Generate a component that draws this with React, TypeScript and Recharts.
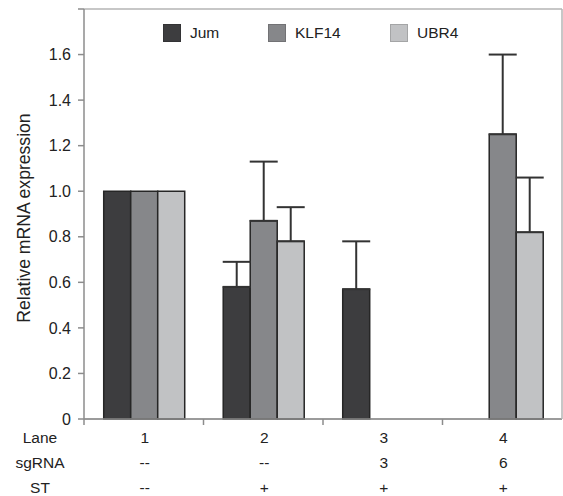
import React from 'react';
import { BarChart, Bar, XAxis, YAxis, CartesianGrid, Legend, ErrorBar } from 'recharts';

// lane table under the x axis
const LANES = ['1', '2', '3', '4'];
const SGRNA = ['--', '--', '3', '6'];
const ST = ['--', '+', '+', '+'];

// bar heights (relative mRNA expression)
const JUM = [1.0, 0.58, 0.57, null];
const KLF14 = [1.0, 0.87, null, 1.25];
const UBR4 = [1.0, 0.78, null, 0.82];

// upper error (only drawn above the bar)
const JUM_ERR = [null, 0.11, 0.21, null];
const KLF14_ERR = [null, 0.26, null, 0.35];
const UBR4_ERR = [null, 0.15, null, 0.24];

const Y_TICKS = [0, 0.2, 0.4, 0.6, 0.8, 1.0, 1.2, 1.4, 1.6, 1.8];

const SERIES = [
    { key: 'Jum', err: 'jumErr', color: '#3d3d3f' },
    { key: 'KLF14', err: 'klfErr', color: '#86878a' },
    { key: 'UBR4', err: 'ubrErr', color: '#c1c2c4' },
];

const W = 563;
const H = 496;
const Y_AXIS_W = 84;
const FONT = '"Liberation Sans", Arial, Helvetica, sans-serif';
const AXIS_GRAY = '#8c8c8c';
const GRID_GRAY = '#b4b4b4';
const TEXT = '#222';

const HALF_BAND = (W - Y_AXIS_W - 1) / LANES.length / 2;

const upper = (v: number | null) => (v == null ? null : [0, v]);

const data = LANES.map((lane, i) => ({
    lane,
    Jum: JUM[i],
    KLF14: KLF14[i],
    UBR4: UBR4[i],
    jumErr: upper(JUM_ERR[i]),
    klfErr: upper(KLF14_ERR[i]),
    ubrErr: upper(UBR4_ERR[i]),
}));

const LaneTick = (props: any) => {
    const { x, y, index, payload } = props;
    const i = index ?? payload.index;
    const rows = [LANES[i], SGRNA[i], ST[i]];
    const names = ['Lane', 'sgRNA', 'ST'];
    const dys = [24, 49, 74];
    return (
        <g>
            <line x1={x - HALF_BAND} x2={x - HALF_BAND} y1={y} y2={y + 6} stroke={AXIS_GRAY} strokeWidth={1.5} />
            {rows.map((t, r) => (
                <text key={r} x={x + 1} y={y + dys[r]} textAnchor="middle" fontSize={15.5} fill={TEXT} fontFamily={FONT}>
                    {t}
                </text>
            ))}
            {i === 0 && names.map((t, r) => (
                <text key={'n' + r} x={40} y={y + dys[r]} textAnchor="middle" fontSize={15.5} fill={TEXT} fontFamily={FONT}>
                    {t}
                </text>
            ))}
        </g>
    );
};

const renderLegend = () => (
    <div style={{ display: 'flex', alignItems: 'center', fontFamily: FONT, fontSize: 15.5, color: TEXT }}>
        {SERIES.map((s, i) => (
            <div key={s.key} style={{ display: 'flex', alignItems: 'center', width: i === 0 ? 105 : i === 1 ? 122 : 80 }}>
                <span
                    style={{
                        display: 'inline-block',
                        width: 18,
                        height: 18,
                        boxSizing: 'border-box',
                        background: s.color,
                        border: '1px solid rgba(0,0,0,0.15)',
                    }}
                />
                <span style={{ marginLeft: 9, lineHeight: '18px' }}>{s.key}</span>
            </div>
        ))}
    </div>
);

export default function App() {
    return (
        <div style={{ position: 'absolute', left: 0, top: 0, width: W, height: H, background: '#fff' }}>
            <BarChart
                width={W}
                height={H}
                data={data}
                margin={{ top: 9, right: 0, left: 0, bottom: 0 }}
                barCategoryGap="16.5%"
                barGap={0}
            >
                <CartesianGrid horizontal vertical={false} stroke={GRID_GRAY} strokeWidth={1.5} />
                <XAxis
                    dataKey="lane"
                    height={77}
                    tickLine={false}
                    tickSize={0}
                    tickMargin={0}
                    interval={0}
                    axisLine={{ stroke: AXIS_GRAY, strokeWidth: 1.5 }}
                    tick={<LaneTick />}
                />
                <YAxis
                    yAxisId="left"
                    width={Y_AXIS_W}
                    domain={[0, 1.8]}
                    ticks={Y_TICKS}
                    interval={0}
                    tickSize={6}
                    tickMargin={7}
                    tickFormatter={(v: number) => (v === 0 ? '0' : v >= 1.79 ? '' : v.toFixed(1))}
                    tick={{ fontSize: 16, fill: TEXT, fontFamily: FONT }}
                    tickLine={{ stroke: AXIS_GRAY, strokeWidth: 1.5 }}
                    axisLine={{ stroke: AXIS_GRAY, strokeWidth: 1.5 }}
                    label={{
                        value: 'Relative mRNA expression',
                        angle: -90,
                        position: 'center',
                        dx: -18,
                        dy: 4,
                        style: { fontSize: 17.6, fill: TEXT, fontFamily: FONT },
                    }}
                />
                <YAxis
                    yAxisId="right"
                    orientation="right"
                    width={1}
                    domain={[0, 1.8]}
                    tick={false}
                    tickLine={false}
                    axisLine={{ stroke: GRID_GRAY, strokeWidth: 1.5 }}
                />
                <Legend
                    verticalAlign="middle"
                    align="center"
                    content={renderLegend}
                    wrapperStyle={{ position: 'absolute', top: 24, left: 163, width: 320 }}
                />
                {SERIES.map(s => (
                    <Bar
                        key={s.key}
                        yAxisId="left"
                        dataKey={s.key}
                        fill={s.color}
                        stroke="#262626"
                        strokeWidth={1.5}
                        isAnimationActive={false}
                    >
                        <ErrorBar dataKey={s.err} width={14} stroke="#333" strokeWidth={2} direction="y" />
                    </Bar>
                ))}
            </BarChart>
        </div>
    );
}
